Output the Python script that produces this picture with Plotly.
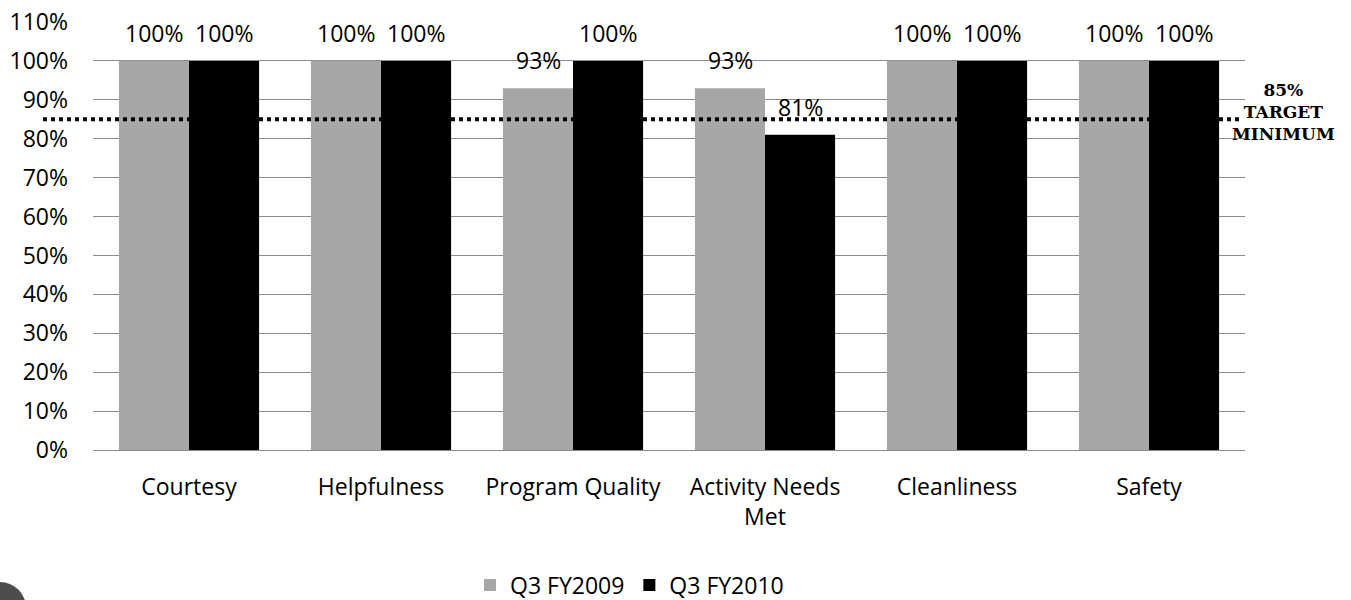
import plotly.graph_objects as go

categories = ["Courtesy", "Helpfulness", "Program Quality", "Activity Needs<br>Met", "Cleanliness", "Safety"]
q3_fy2009 = [1.00, 1.00, 0.93, 0.93, 1.00, 1.00]
q3_fy2010 = [1.00, 1.00, 1.00, 0.81, 1.00, 1.00]
series_names = ["Q3 FY2009", "Q3 FY2010"]
target = 0.85
y_ticks = [i / 10 for i in range(12)]
y_tick_labels = [f"{int(round(v * 100))}%" for v in y_ticks]

FONT = "Open Sans"
FS = 23
W, H = 1351, 600
ML, MR, MT, MB = 93, 106, 22, 150
PW, PH = W - ML - MR, H - MT - MB

fig = go.Figure()
fig.add_trace(go.Bar(x=categories, y=q3_fy2009, name=series_names[0], marker_color="#a6a6a6", marker_line_width=0))
fig.add_trace(go.Bar(x=categories, y=q3_fy2010, name=series_names[1], marker_color="#000000", marker_line_width=0))

# value labels above bars
for series, shift in ((q3_fy2009, -35), (q3_fy2010, 35)):
    for c, v in zip(categories, series):
        fig.add_annotation(x=c, y=v, xref="x", yref="y", text=f"{round(v * 100):.0f}%",
                           showarrow=False, xshift=shift, yshift=28, yanchor="middle", xanchor="center",
                           font=dict(family=FONT, size=FS, color="#000"))

# 85% target dotted line
fig.add_shape(type="line", xref="paper", yref="y", x0=(43 - ML) / PW, x1=(1243 - ML) / PW, y0=target, y1=target,
              line=dict(color="#000", width=4, dash="4px,4px"), layer="above")
fig.add_annotation(xref="paper", yref="y", x=(1283 - ML) / PW, y=target, yshift=7, showarrow=False,
                   text="<b>85%<br>TARGET<br>MINIMUM</b>", align="center", yanchor="middle", xanchor="center",
                   font=dict(family="DejaVu Serif", size=17, color="#000"))

# decorative corner circle
cx, cy, r = 0, 608, 26
fig.add_shape(type="circle", xref="paper", yref="paper",
              x0=(cx - r - ML) / PW, x1=(cx + r - ML) / PW,
              y0=(MT + PH - (cy + r)) / PH, y1=(MT + PH - (cy - r)) / PH,
              fillcolor="#4d4d4d", line_width=0, layer="above")

fig.update_layout(
    width=W, height=H,
    template="none",
    margin=dict(l=ML, r=MR, t=MT, b=MB, autoexpand=False),
    barmode="group", bargap=0.27, bargroupgap=0,
    plot_bgcolor="#fff", paper_bgcolor="#fff",
    font=dict(family=FONT, size=FS, color="#000"),
    showlegend=True,
    legend=dict(orientation="h", x=(470 - ML) / PW, xanchor="left", y=(MT + PH - 585) / PH, yanchor="middle",
                font=dict(family=FONT, size=FS), itemwidth=30, traceorder="normal", bgcolor="rgba(0,0,0,0)"),
)
fig.update_yaxes(range=[0, 1.1], tickvals=y_ticks, ticktext=y_tick_labels, showgrid=True,
                 gridcolor="#8c8c8c", gridwidth=1, zeroline=False, showline=False, ticks="",
                 ticklabelstandoff=24, automargin=False)
fig.update_xaxes(showline=True, linecolor="#8c8c8c", linewidth=1, ticks="", showgrid=False,
                 ticklabelstandoff=16, automargin=False)

fig.write_html("out.html", config={"displayModeBar": False},
               post_script="document.body.style.margin='0';document.body.style.overflow='hidden';")
